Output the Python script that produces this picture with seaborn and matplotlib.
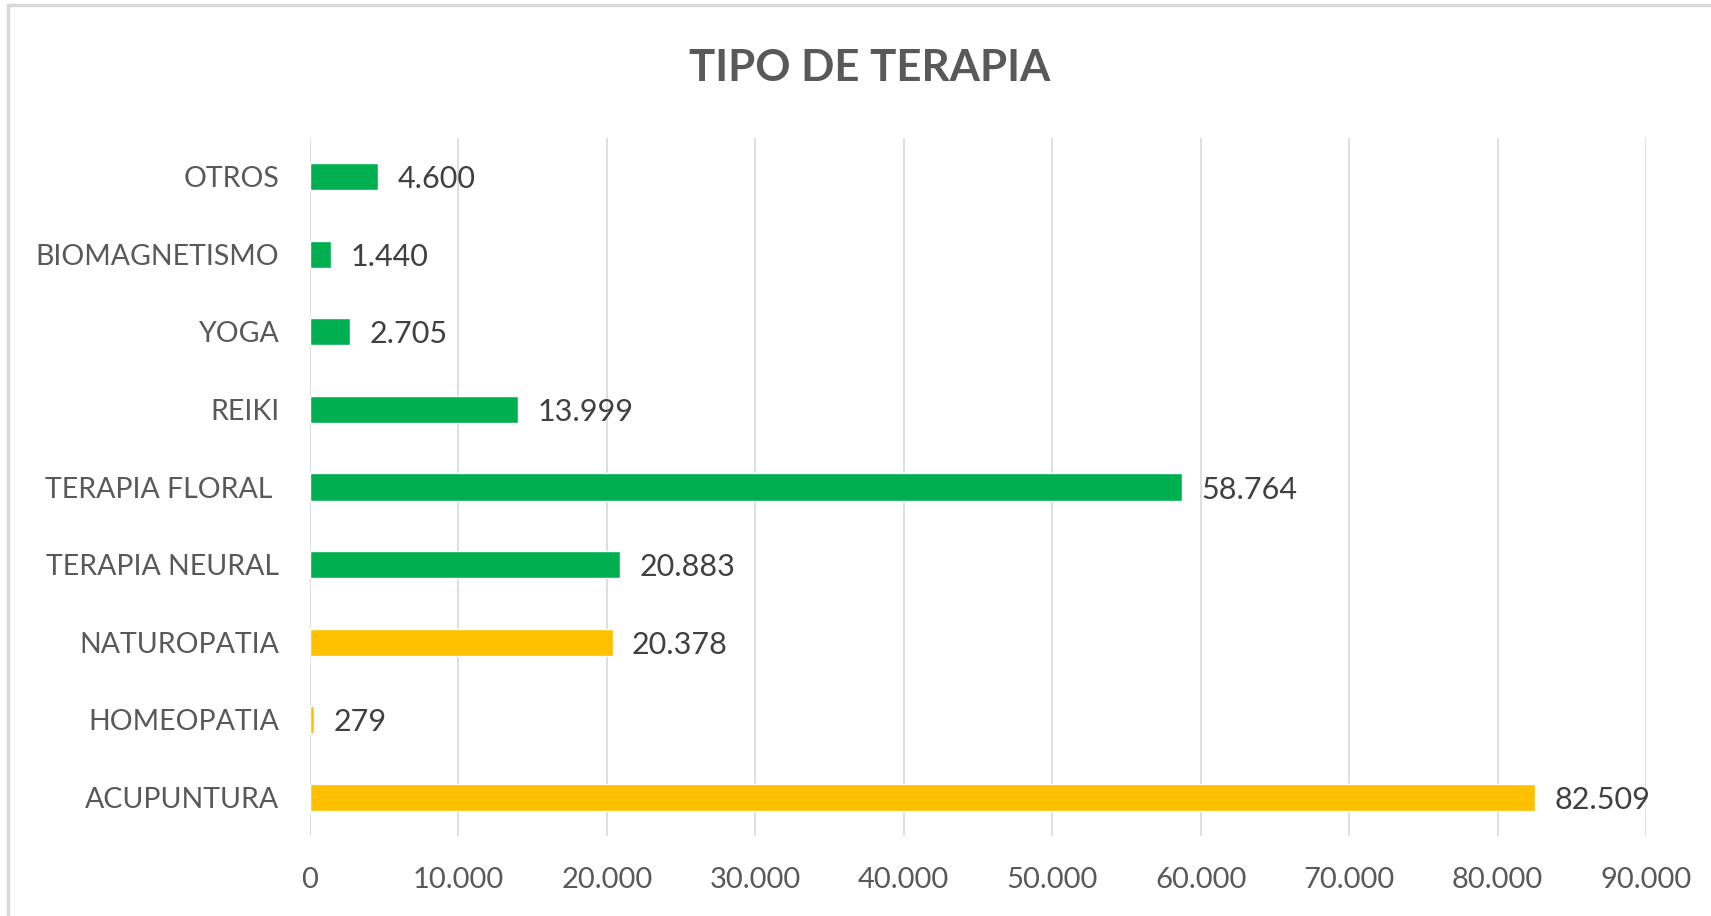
import matplotlib
matplotlib.use("Agg")
import matplotlib.pyplot as plt
from matplotlib.patches import Rectangle
import seaborn as sns
import pandas as pd

# data, top to bottom as in the chart
categorias = ["OTROS", "BIOMAGNETISMO", "YOGA", "REIKI", "TERAPIA FLORAL ",
              "TERAPIA NEURAL", "NATUROPATIA", "HOMEOPATIA", "ACUPUNTURA"]
valores = [4600, 1440, 2705, 13999, 58764, 20883, 20378, 279, 82509]
grupo = ["verde", "verde", "verde", "verde", "verde", "verde",
         "amarillo", "amarillo", "amarillo"]
ticks_x = [0, 10000, 20000, 30000, 40000, 50000, 60000, 70000, 80000, 90000]

colores = {"verde": "#00B050", "amarillo": "#FFC000"}


def miles(v):
    return f"{v:,.0f}".replace(",", ".")


df = pd.DataFrame({"terapia": categorias, "valor": valores, "grupo": grupo})

sns.set_theme(style="white")
plt.rcParams["font.family"] = ["Lato", "DejaVu Sans"]

fig = plt.figure(figsize=(17.11, 9.16), dpi=100)
ax = fig.add_axes([310 / 1711, 1 - 836 / 916, (1646 - 310) / 1711, (836 - 138) / 916])

sns.barplot(data=df, x="valor", y="terapia", hue="grupo", palette=colores,
            dodge=False, width=0.35, legend=False, ax=ax, saturation=1)

for i, v in enumerate(valores):
    ax.text(v + 1300, i, miles(v), va="center_baseline", ha="left",
            fontsize=22, color="#404040")

ax.set_xlim(0, 90000)
ax.set_ylim(len(categorias) - 0.5, -0.5)
ax.set_xticks(ticks_x)
ax.set_xticklabels([miles(t) for t in ticks_x], fontsize=21, color="#595959")
ax.tick_params(axis="y", labelsize=20.5, labelcolor="#595959", length=0, pad=22)
for lab in ax.get_yticklabels():
    lab.set_verticalalignment("center_baseline")
ax.tick_params(axis="x", length=0, pad=22)
ax.set_xlabel("")
ax.set_ylabel("")
ax.grid(axis="x", color="#d9d9d9", linewidth=1.2)
ax.set_axisbelow(True)
for s in ax.spines.values():
    s.set_visible(False)

fig.text(870 / 1711, 1 - 68 / 916, "TIPO DE TERAPIA", ha="center", va="center",
         fontsize=31.5, fontweight="bold", color="#595959")

# marco gris del gráfico
fig.patches.append(Rectangle((8 / 1711, -0.05), 1.1, 1 - 5 / 916 + 0.05,
                             transform=fig.transFigure, fill=False,
                             edgecolor="#d9d9d9", linewidth=2.5))

fig.savefig("out.png", dpi=100)
